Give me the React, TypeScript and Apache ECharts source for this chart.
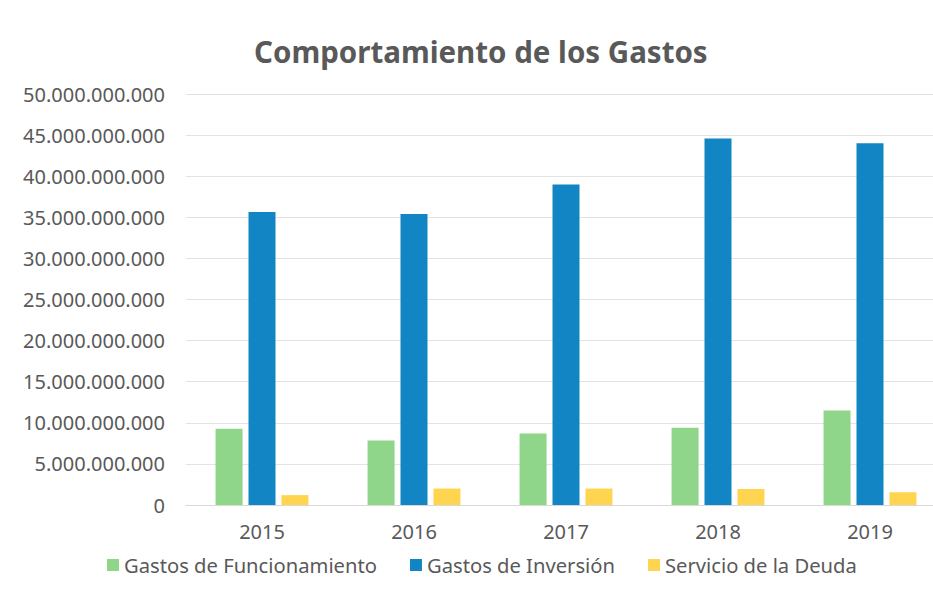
import React, { useEffect, useRef } from "react";
import * as echarts from "echarts";

const categories = ["2015", "2016", "2017", "2018", "2019"];
const funcionamiento = [9280000000, 7850000000, 8700000000, 9400000000, 11500000000];
const inversion = [35650000000, 35400000000, 39000000000, 44600000000, 44000000000];
const deuda = [1200000000, 2000000000, 2000000000, 1950000000, 1550000000];
const seriesNames = ["Gastos de Funcionamiento", "Gastos de Inversión", "Servicio de la Deuda"];
const colors = ["#8fd68a", "#1285c4", "#ffd44f"];

const fmt = (v: number) => String(v).replace(/\B(?=(\d{3})+(?!\d))/g, ".");

export default function App() {
  const ref = useRef<HTMLDivElement>(null);
  useEffect(() => {
    if (!ref.current) return;
    const chart = echarts.init(ref.current, null, { renderer: "svg" });
    const font = "'Noto Sans', sans-serif";
    const values = [funcionamiento, inversion, deuda];
    chart.setOption({
      animation: false,
      backgroundColor: "#ffffff",
      textStyle: { fontFamily: font },
      title: {
        text: "Comportamiento de los Gastos",
        left: 254,
        top: 36,
        padding: 0,
        textStyle: { fontSize: 29.5, fontWeight: "bold", color: "#595959", fontFamily: font },
      },
      legend: {
        data: seriesNames,
        left: 107,
        top: 555,
        padding: 0,
        itemWidth: 12,
        itemHeight: 12,
        itemGap: 33,
        icon: "rect",
        textStyle: { fontSize: 20.2, color: "#595959", fontFamily: font },
      },
      grid: { left: 186, top: 94, width: 760, height: 411 },
      xAxis: {
        type: "category",
        data: categories,
        axisLine: { show: true, lineStyle: { color: "#d9d9d9" } },
        axisTick: { show: false },
        axisLabel: { fontSize: 20, color: "#595959", margin: 16, fontFamily: font },
      },
      yAxis: {
        type: "value",
        min: 0,
        max: 50000000000,
        interval: 5000000000,
        axisLine: { show: false },
        axisTick: { show: false },
        splitLine: { lineStyle: { color: "#e3e3e3" } },
        axisLabel: { fontSize: 20, color: "#595959", margin: 21, formatter: fmt, fontFamily: font },
      },
      series: seriesNames.map((name, i) => ({
        name,
        type: "bar",
        data: values[i],
        barWidth: 27,
        barGap: "22%",
        itemStyle: { color: colors[i] },
      })),
    });
    return () => chart.dispose();
  }, []);
  return (
    <div style={{ position: "fixed", left: 0, top: 0, width: 933, height: 590, overflow: "hidden", background: "#fff" }}>
      <div ref={ref} style={{ width: 960, height: 590 }} />
    </div>
  );
}
